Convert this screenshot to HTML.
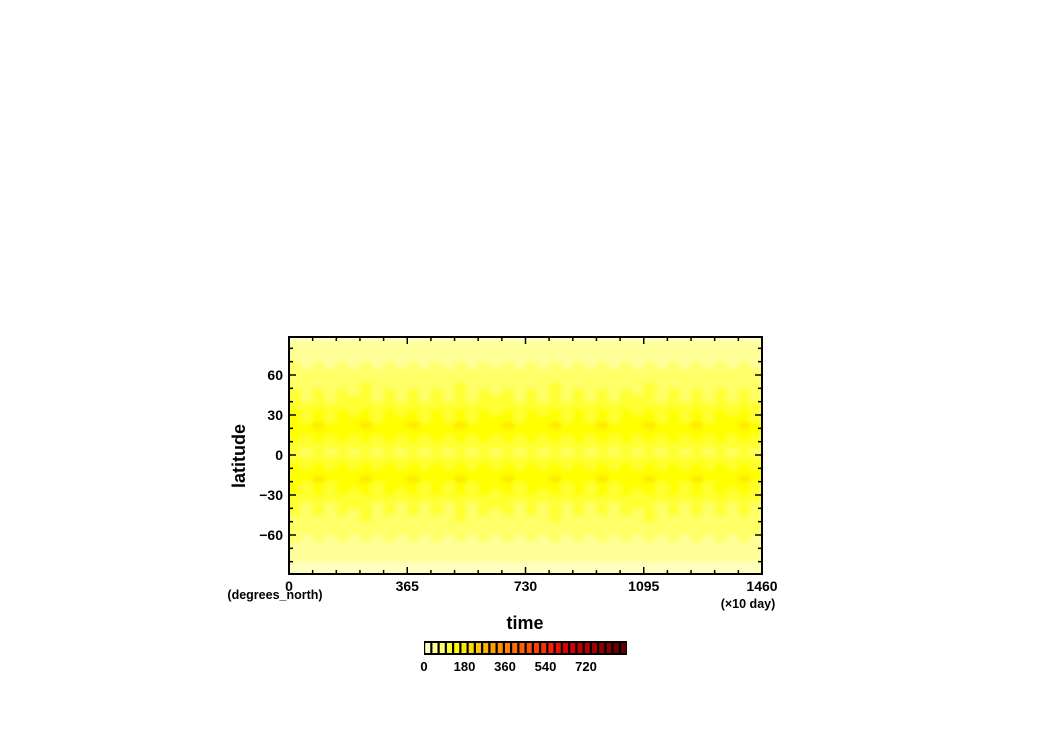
<!DOCTYPE html>
<html><head><meta charset="utf-8"><style>
html,body{margin:0;padding:0;background:#fff;}
svg{display:block;font-family:"Liberation Sans",sans-serif;font-weight:bold;}
</style></head><body>
<svg id="chart" width="1050" height="742" viewBox="0 0 1050 742">
<defs>
<filter id="soft" x="0" y="0" width="1" height="1"><feGaussianBlur stdDeviation="2.5 2"/></filter>
<clipPath id="pclip"><rect x="289" y="337" width="473" height="237"/></clipPath>
</defs>
<g clip-path="url(#pclip)"><rect x="289" y="337" width="473" height="237" fill="#ffff80"/><g id="cells" filter="url(#soft)"></g></g>
<g id="axes"></g>
<g id="cbar"></g>
</svg>
<script>
// data
const latitudes = [-90,-85,-80,-75,-70,-65,-60,-55,-50,-45,-40,-35,-30,-25,-20,-15,-10,-5,0,5,10,15,20,25,30,35,40,45,50,55,60,65,70,75,80,85];
const latProfile = [22,26,34,44,54,62,70,76,82,88,96,106,118,130,140,136,124,108,88,108,124,136,140,130,118,106,96,88,82,76,70,62,54,44,34,26];
const timeAmp = [1.04,0.92,1.08,0.9,1.06,0.94,1.1,0.9,1.05,0.93,1.08,0.9,1.07,0.92,1.1,0.91,1.06,0.94,1.09,0.9,1.07,0.93,1.1,0.91,1.04,0.92,1.08,0.9,1.06,0.94,1.1,0.91,1.07,0.92,1.09,0.91,1.06,0.93,1.08,0.92];
const levelColors = ["#ffffc0","#ffff98","#ffff68","#ffff30","#ffff00","#ffe800","#ffd800","#ffc400","#ffb000","#ffa000","#ff9000","#ff8000","#ff7000","#ff6000","#ff5000","#ff4000","#ff3000","#ff2000","#f01000","#e00000","#d00000","#c00000","#b00000","#a00000","#900000","#800000","#700000","#600000"];
const levelStep = 30;
const xTicks = [0,365,730,1095,1460];
const yTicks = [-60,-30,0,30,60];
const cbarLabels = [0,180,360,540,720];

const NS="http://www.w3.org/2000/svg";
const X0=289,X1=762,Y0=337,Y1=574;
const xs=t=>X0+(t/1460)*(X1-X0);
const ys=l=>455-l*(40/30);
function mk(tag,attrs,parent){const e=document.createElementNS(NS,tag);for(const k in attrs)e.setAttribute(k,attrs[k]);parent.appendChild(e);return e;}
const cells=document.getElementById('cells'),axes=document.getElementById('axes'),cb=document.getElementById('cbar');
const nT=timeAmp.length, dt=1460/nT;
for(let i=0;i<nT;i++){
  for(let j=0;j<latitudes.length;j++){
    const v=latProfile[j]*timeAmp[i];
    const lvl=Math.min(levelColors.length-1,Math.floor(v/levelStep));
    const la=latitudes[j];
    const yt=ys(la+5), yb=ys(la);
    const x0=i===0?X0-10:xs(i*dt), x1=i===nT-1?X1+10:xs((i+1)*dt);
    const y0=la===85?Y0-10:yt, y1=la===-90?Y1+10:yb;
    const r=mk('rect',{x:x0,y:y0,width:x1-x0+0.5,height:y1-y0+0.5,fill:levelColors[lvl]},cells);
    
    
  }
}
mk('rect',{x:X0,y:Y0,width:X1-X0,height:Y1-Y0,fill:'none',stroke:'#000','stroke-width':2},axes);
for(let t=0;t<=1460;t+=73){
  const maj=(t%365===0), len=maj?7:4, x=xs(t);
  mk('line',{x1:x,y1:Y1,x2:x,y2:Y1-len,stroke:'#000','stroke-width':1.5},axes);
  mk('line',{x1:x,y1:Y0,x2:x,y2:Y0+len,stroke:'#000','stroke-width':1.5},axes);
}
xTicks.forEach(t=>{const e=mk('text',{x:xs(t),y:591,'text-anchor':'middle','font-size':14},axes);e.textContent=t;
});
for(let l=-80;l<=80;l+=10){
  const maj=(l%30===0), len=maj?7:4, y=ys(l);
  mk('line',{x1:X0,y1:y,x2:X0+len,y2:y,stroke:'#000','stroke-width':1.5},axes);
  mk('line',{x1:X1,y1:y,x2:X1-len,y2:y,stroke:'#000','stroke-width':1.5},axes);
}
yTicks.forEach(l=>{const e=mk('text',{x:283,y:ys(l)+5,'text-anchor':'end','font-size':14},axes);e.textContent=(l<0?'\u2212'+(-l):l);
});
let e=mk('text',{x:275,y:599,'text-anchor':'middle','font-size':12.5},axes);e.textContent='(degrees_north)';

e=mk('text',{x:748,y:608,'text-anchor':'middle','font-size':12.5},axes);e.textContent='(\u00d710 day)';

e=mk('text',{x:525,y:629,'text-anchor':'middle','font-size':18},axes);e.textContent='time';

e=mk('text',{x:0,y:0,'text-anchor':'middle','font-size':18,transform:'translate(245,456) rotate(-90)'},axes);e.textContent='latitude';

const CB0=424,CB1=627,bw=(CB1-CB0)/levelColors.length;
mk('rect',{x:CB0,y:641,width:CB1-CB0,height:14,fill:'#000'},cb);
levelColors.forEach((c,k)=>{const r=mk('rect',{x:CB0+k*bw+1.2,y:643,width:bw-2.2,height:10,fill:c},cb);
});
const cbx=v=>CB0+v*(40.5/180);
cbarLabels.forEach(v=>{const t=mk('text',{x:cbx(v),y:671,'text-anchor':'middle','font-size':13},cb);t.textContent=v;
});
</script>
</body></html>
